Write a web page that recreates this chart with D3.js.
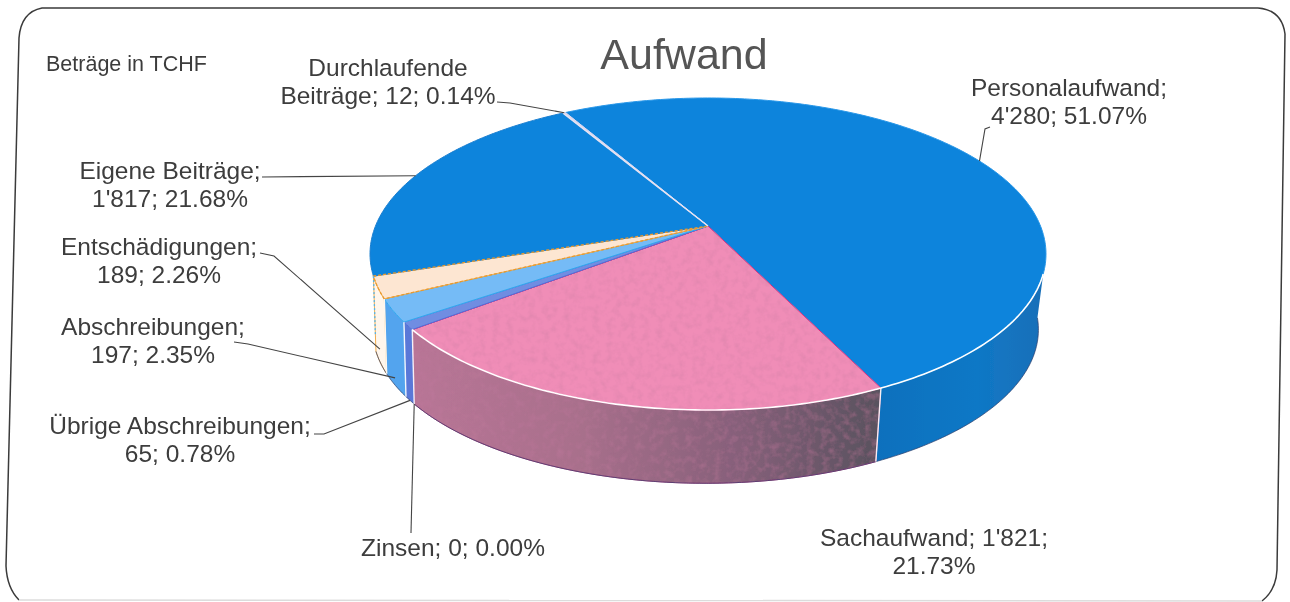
<!DOCTYPE html>
<html>
<head>
<meta charset="utf-8">
<script src="https://cdnjs.cloudflare.com/ajax/libs/d3/7.8.5/d3.min.js"></script>
<style>
    html, body { margin: 0; padding: 0; background: #fff; }
    svg { display: block; }
    text { font-family: "Liberation Sans", Arial, sans-serif; fill: #3c3c3c; }
</style>
</head>
<body>
<svg id="chart" width="1290" height="602"></svg>
<script>
// values, in drawing order (clockwise from the top)
var categories = ["Personalaufwand", "Sachaufwand", "Zinsen", "Übrige Abschreibungen", "Abschreibungen", "Entschädigungen", "Eigene Beiträge", "Durchlaufende Beiträge"];
var amounts = [4280, 1821, 0, 65, 197, 189, 1817, 12];
var labelLines = [
    ["Personalaufwand;", "4'280; 51.07%"],
    ["Sachaufwand; 1'821;", "21.73%"],
    ["Zinsen; 0; 0.00%"],
    ["Übrige Abschreibungen;", "65; 0.78%"],
    ["Abschreibungen;", "197; 2.35%"],
    ["Entschädigungen;", "189; 2.26%"],
    ["Eigene Beiträge;", "1'817; 21.68%"],
    ["Durchlaufende", "Beiträge; 12; 0.14%"]
];
var chartTitle = "Aufwand";
var unitNote = "Beträge in TCHF";

// layout
var topColor = ["#0b84dc", "#f08db7", "#d8388a", "#6f8de2", "#74bbf6", "#fde6d2", "#0b84dc", "#d9d6ee"];
var edgeColor = ["#2a97e8", "#dd2f80", "#dd2f80", "#4f6fd8", "#2fa8ee", "#f2ad4e", "#1c7fd0", "#d9d6ee"];
var wallColor = ["url(#wallBlue)", "url(#wallPink)", "#d8388a", "#5a78d8", "#52a4ee", "#fff6ec", "#0b84dc", "#d9d6ee"];

// label anchor [x, first baseline], leader elbow [x, y], where the leader lands (0 top rim .. 1 bottom rim)
var labelAt = [[1069, 96], [934, 546], [453, 556], [180, 434], [153, 335], [159, 255], [170, 179], [388, 76]];
var leaderFrom = [[990, 127], null, [411, 533], [314, 434], [234, 342], [260, 253], [262, 177], [497, 102]];
var leaderElbow = [[985, 129], null, null, [324, 434], [248, 344], [274, 256], null, [510, 103]];
var leaderDepth = [0, 0, 1, 1, 0.9, 0.82, 0, 0];

var cx = 708, cy = 226;      // where the slices meet
var R = 332.5, squash = 151; // disc radius across and along the view
var k = 0.1795;              // perspective of the disc
var depth = 76, shrink = 0.985, drift = -2.5;

var wallFrom = 107.5 * Math.PI / 180; // the wall shows from here, clockwise
var footFrom = 96 * Math.PI / 180;    // its foot curves round a bit further

function project(a, h) {
    var u = Math.sin(a), v = -Math.cos(a);
    var s = 1 / (1 - k * v);
    var b = 1 + (shrink - 1) * h;
    return [cx + drift * h + R * b * u * s, cy + depth * h + squash * b * v * s];
}

function rim(a0, a1, h) {
    var n = Math.max(2, Math.ceil(Math.abs(a1 - a0) * 60));
    return d3.range(n + 1).map(function(i) {
        return project(a0 + (a1 - a0) * i / n, h);
    });
}

var svg = d3.select("#chart");
var defs = svg.append("defs");

function addGradient(id, x1, x2, stops) {
    var g = defs.append("linearGradient").attr("id", id)
        .attr("gradientUnits", "userSpaceOnUse")
        .attr("x1", x1).attr("x2", x2).attr("y1", 0).attr("y2", 0);
    stops.forEach(function(s) {
        g.append("stop").attr("offset", s[0]).attr("stop-color", s[1]);
    });
}
addGradient("wallPink", 412, 878, [[0, "#b87596"], [0.35, "#a9708c"], [0.7, "#86607a"], [1, "#59525f"]]);
addGradient("wallBlue", 875, 1045, [[0, "#0c70bd"], [0.6, "#0f78c6"], [1, "#1a6fb8"]]);

// scan grain on the pink part
var grain = defs.append("filter").attr("id", "grain")
    .attr("x", 0).attr("y", 0).attr("width", "100%").attr("height", "100%");
grain.append("feTurbulence").attr("type", "fractalNoise").attr("baseFrequency", 0.14).attr("numOctaves", 3).attr("seed", 4).attr("result", "n");
grain.append("feColorMatrix").attr("in", "n").attr("type", "matrix")
    .attr("values", "0 0 0 0 0.55  0 0 0 0 0.2  0 0 0 0 0.35  0 0 0 0.7 -0.3").attr("result", "spots");
grain.append("feComposite").attr("in", "spots").attr("in2", "SourceGraphic").attr("operator", "in").attr("result", "clipped");
grain.append("feMerge").selectAll("feMergeNode").data(["SourceGraphic", "clipped"]).join("feMergeNode").attr("in", function(d) { return d; });

var soft = defs.append("filter").attr("id", "soft");
soft.append("feGaussianBlur").attr("stdDeviation", 0.35);

// frame of the scanned page
var frame = svg.append("g").attr("fill", "none").attr("filter", "url(#soft)");
frame.append("path")
    .attr("d", "M19,600 Q7,588 6,566 L19,38 Q21,12 42,8 L1258,8 Q1282,10 1285,34 L1277,570 Q1276,590 1262,601")
    .attr("stroke", "#3a3a3a").attr("stroke-width", 1.5);
frame.append("path").attr("d", "M19,600 L1262,601").attr("stroke", "#dcdcdc").attr("stroke-width", 1.5);

var slices = d3.pie().sort(null).value(function(d) { return d; })
    .startAngle(-29.7 * Math.PI / 180)
    .endAngle((360 - 29.7) * Math.PI / 180)(amounts);

var line = d3.line();
var pie3d = svg.append("g").attr("filter", "url(#soft)");

// walls first, the top face goes over them
var walls = slices.filter(function(d) {
    return d.endAngle > wallFrom && d.startAngle < slices[6].startAngle && d.endAngle > d.startAngle;
});
var wallGroup = pie3d.append("g");
wallGroup.selectAll("path").data(walls).join("path")
    .attr("d", function(d) {
        var a0 = Math.max(d.startAngle, wallFrom);
        var f0 = d.index === 0 ? footFrom : a0;
        return line(rim(a0, d.endAngle, 0).concat(rim(d.endAngle, f0, 1))) + "Z";
    })
    .attr("fill", function(d) { return wallColor[d.index]; })
    .attr("stroke", function(d) { return d.index === 5 ? "#f2ad4e" : d.index === 1 ? "#c9407f" : "none"; })
    .attr("stroke-width", 1)
    .attr("filter", function(d) { return d.index === 1 ? "url(#grain)" : null; });

// dark line along the foot of the walls
wallGroup.append("path")
    .attr("d", line(rim(footFrom, slices[5].endAngle, 1)))
    .attr("fill", "none").attr("stroke", "#2c3f6c").attr("stroke-width", 1).attr("opacity", 0.7);

// top face
pie3d.append("g").selectAll("path").data(slices).join("path")
    .attr("d", function(d) {
        return line([[cx, cy]].concat(rim(d.startAngle, d.endAngle, 0))) + "Z";
    })
    .attr("fill", function(d) { return topColor[d.index]; })
    .attr("stroke", function(d) { return edgeColor[d.index]; })
    .attr("stroke-width", 1)
    .attr("filter", function(d) { return d.index === 1 ? "url(#grain)" : null; });

// the dashed orange edges of the pale slice
pie3d.append("path")
    .attr("d", line(rim(slices[5].startAngle, slices[5].endAngle, 0).concat([[cx, cy]])) + "Z")
    .attr("fill", "none").attr("stroke", "#e89a30").attr("stroke-width", 1.3).attr("stroke-dasharray", "3,2");
pie3d.append("path")
    .attr("d", line([project(slices[6].startAngle, 0), project(slices[6].startAngle, 0.8)]))
    .attr("stroke", "#55b4e8").attr("stroke-width", 1.3).attr("stroke-dasharray", "2,2");

// light rim on the front edge
[[wallFrom, slices[0].endAngle], [slices[1].startAngle, slices[1].endAngle]].forEach(function(r) {
    pie3d.append("path").attr("d", line(rim(r[0], r[1], 0)))
        .attr("fill", "none").attr("stroke", "#fff").attr("stroke-width", 1.6);
});
[slices[0].endAngle, slices[3].startAngle, slices[4].startAngle, slices[5].startAngle].forEach(function(a) {
    pie3d.append("path").attr("d", line([project(a, 0), project(a, 1)]))
        .attr("stroke", "#fff").attr("stroke-width", 1.4).attr("opacity", 0.9);
});
pie3d.append("path").attr("d", line([[cx, cy], project(slices[7].startAngle, 0)]))
    .attr("stroke", "#e4e2f2").attr("stroke-width", 1.5);

// leaders
var leaders = svg.append("g").attr("fill", "none").attr("stroke", "#444").attr("stroke-width", 1.1);
slices.forEach(function(d) {
    var from = leaderFrom[d.index];
    if (!from) return;
    var pts = [from];
    if (leaderElbow[d.index]) pts.push(leaderElbow[d.index]);
    pts.push(project((d.startAngle + d.endAngle) / 2, leaderDepth[d.index]));
    leaders.append("path").attr("d", line(pts));
});

// labels
var labels = svg.append("g").attr("font-size", 24.5).attr("text-anchor", "middle").attr("filter", "url(#soft)");
labelLines.forEach(function(lines, i) {
    var t = labels.append("text").attr("x", labelAt[i][0]).attr("y", labelAt[i][1]);
    lines.forEach(function(s, j) {
        t.append("tspan").attr("x", labelAt[i][0]).attr("dy", j ? 28 : 0).text(s);
    });
});

svg.append("text").attr("x", 46).attr("y", 71).attr("font-size", 21.5).text(unitNote);
svg.append("text").attr("x", 684).attr("y", 69).attr("text-anchor", "middle")
    .attr("font-size", 43).style("fill", "#555").text(chartTitle);
</script>
</body>
</html>
